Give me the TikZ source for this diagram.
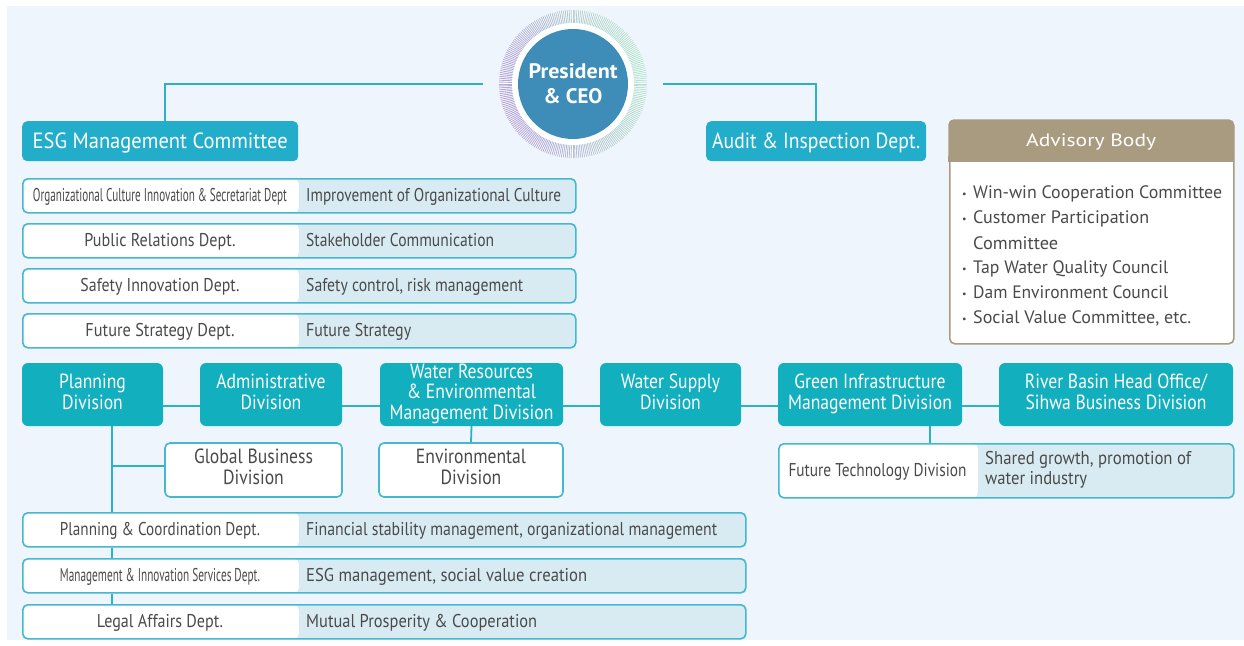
\documentclass[tikz,border=0pt]{standalone}
\usepackage{fontspec}
\setmainfont{PT Sans}
\usepackage{graphicx}
\definecolor{bgc}{HTML}{EEF5FC}
\definecolor{esgc}{HTML}{22AECB}
\definecolor{divc}{HTML}{12AFBE}
\definecolor{connc}{HTML}{2BB1C9}
\definecolor{rowline}{HTML}{45B7CE}
\definecolor{rowblue}{HTML}{D9EBF2}
\definecolor{txtgray}{HTML}{4A4A4A}
\definecolor{tanc}{HTML}{A99B80}
\definecolor{ceoblue}{HTML}{3E8DB9}
\definecolor{ringp}{HTML}{9C8BCF}
\definecolor{ringg}{HTML}{9ED9C4}
\newcommand{\tw}[2]{\resizebox{#1pt}{\height}{#2}}
\newcommand{\rowfont}{\fontsize{18.5}{20}\selectfont}
\newcommand{\topfont}{\fontsize{22}{24}\selectfont}
\newcommand{\divfont}{\fontsize{20.5}{21}\selectfont}
\newcommand{\advfont}{\fontsize{18}{20}\selectfont}
\newcommand{\ceofont}{\fontsize{21}{25}\selectfont\bfseries}
\newcommand{\dl}[1]{\scalebox{0.86}[1]{\begin{tabular}{@{}c@{}}#1\end{tabular}}}
\newcommand{\bul}{\makebox[11pt][l]{\raisebox{1pt}{\fontsize{10}{10}\selectfont\textbullet}}}
\begin{document}
\begin{tikzpicture}[x=1pt,y=1pt,
  conn/.style={draw=connc, line width=1.8pt},
  rowbox/.style={draw=rowline, line width=1.6pt, rounded corners=5pt, fill=rowblue,
    inner sep=0pt, anchor=north west, minimum height=34pt,
    path picture={\fill[white] (path picture bounding box.south west) rectangle ([xshift=#1]path picture bounding box.north west);}},
  rowtxt/.style={font=\rowfont, text=txtgray, inner sep=0pt, text height=12.9pt, text depth=0pt},
  topbox/.style={fill=esgc, rounded corners=5pt, anchor=north west, minimum height=40pt,
    inner sep=0pt, text=white, font=\topfont, text height=15.4pt, text depth=0pt},
  divbox/.style={fill=divc, rounded corners=6pt, minimum height=63pt, inner sep=0pt,
    text=white, font=\divfont, align=center},
  subbox/.style={draw=rowline, line width=1.6pt, fill=white, rounded corners=5pt,
    minimum height=54pt, inner sep=0pt, text=txtgray, font=\divfont, align=center},
  advtxt/.style={font=\advfont, text=txtgray, inner sep=0pt, anchor=base west},
]
\useasboundingbox (0,0) rectangle (1244,-645);
\fill[bgc] (7,-6) rectangle (1244,-640);

% CEO
\node[circle, minimum size=148pt, inner sep=0pt, text=white, font=\ceofont, align=center,
  path picture={
    \fill[white] (path picture bounding box.center) circle (74pt);
    \foreach \a in {0,1.5,...,358.5}{
      \pgfmathsetmacro\p{50+50*cos(\a-195)}
      \draw[color=ringp!\p!ringg, line width=0.9pt, opacity=0.75]
        (path picture bounding box.center) ++(\a:59pt) -- ++(\a:16pt);
    }
    \fill[white] (path picture bounding box.center) circle (61pt);
    \fill[ceoblue] (path picture bounding box.center) circle (55pt);
  }] (ceo) at (573,-84) {\tw{89}{President}\\\tw{59}{\& CEO}};

% top boxes
\node[topbox, minimum width=276pt] (esg) at (22,-121) {\tw{255}{ESG Management Committee}};
\node[topbox, minimum width=220pt] (audit) at (706,-121) {\tw{208}{Audit \& Inspection Dept.}};
\draw[conn] ([xshift=-16pt]ceo.west) -| ([xshift=5pt]esg.north);
\draw[conn] ([xshift=16pt]ceo.east) -| (audit.north);

% advisory body
\node[draw=tanc, line width=1.6pt, fill=white, rounded corners=5pt, minimum width=284pt,
  minimum height=223pt, anchor=north west, inner sep=0pt] (adv) at (949,-120) {};
\node[fill=tanc, rounded corners=5pt, minimum width=285.6pt, minimum height=42pt,
  anchor=north west, inner sep=0pt, text=white, font=\advfont, text height=12.6pt,
  text depth=0pt] (advh) at (948.2,-119.2) {\tw{130}{Advisory Body}};
\fill[tanc] (advh.south west) rectangle ([yshift=6pt]advh.south east);
\node[advtxt] (a1) at (962,-198) {\bul\tw{249}{Win-win Cooperation Committee}};
\node[advtxt] (a2) at (962,-223) {\bul\tw{176}{Customer Participation}};
\node[advtxt] (a3) at (973,-249) {\tw{85}{Committee}};
\node[advtxt] (a4) at (962,-273) {\bul\tw{195}{Tap Water Quality Council}};
\node[advtxt] (a5) at (962,-298) {\bul\tw{195}{Dam Environment Council}};
\node[advtxt] (a6) at (962,-323) {\bul\tw{218}{Social Value Committee, etc.}};

% ESG rows
\node[rowbox=276pt, minimum width=553pt] (r1) at (22,-178) {};
\node[rowtxt] (r1a) at (160,-195) {\tw{254}{Organizational Culture Innovation \& Secretariat Dept}};
\node[rowtxt, anchor=west] (r1b) at (306,-195) {\tw{255}{Improvement of Organizational Culture}};
\node[rowbox=276pt, minimum width=553pt] (r2) at (22,-223) {};
\node[rowtxt] (r2a) at (160,-240) {\tw{151}{Public Relations Dept.}};
\node[rowtxt, anchor=west] (r2b) at (306,-240) {\tw{188}{Stakeholder Communication}};
\node[rowbox=276pt, minimum width=553pt] (r3) at (22,-268) {};
\node[rowtxt] (r3a) at (160,-285) {\tw{159}{Safety Innovation Dept.}};
\node[rowtxt, anchor=west] (r3b) at (306,-285) {\tw{217}{Safety control, risk management}};
\node[rowbox=276pt, minimum width=553pt] (r4) at (22,-313) {};
\node[rowtxt] (r4a) at (160,-330) {\tw{149}{Future Strategy Dept.}};
\node[rowtxt, anchor=west] (r4b) at (306,-330) {\tw{105}{Future Strategy}};

% divisions
\node[divbox, minimum width=141pt] (plan) at (92.5,-394.5) {\dl{Planning\\Division}};
\node[divbox, minimum width=142pt] (admin) at (271,-394.5) {\dl{Administrative\\Division}};
\node[divbox, minimum width=183pt, font=\fontsize{20.5}{19}\selectfont] (wr) at (471.5,-394.5) {\dl{Water Resources\\\& Environmental\\Management Division}};
\node[divbox, minimum width=141pt] (ws) at (670.5,-394.5) {\dl{Water Supply\\Division}};
\node[divbox, minimum width=184pt] (green) at (870,-394.5) {\dl{Green Infrastructure\\Management Division}};
\node[divbox, minimum width=234pt] (river) at (1116,-394.5) {\dl{River Basin Head Office/\\Sihwa Business Division}};
\draw[conn] ([yshift=-11.5pt]plan.east) -- ([yshift=-11.5pt]admin.west);
\draw[conn] ([yshift=-11.5pt]admin.east) -- ([yshift=-11.5pt]wr.west);
\draw[conn] ([yshift=-11.5pt]wr.east) -- ([yshift=-11.5pt]ws.west);
\draw[conn] ([yshift=-11.5pt]ws.east) -- ([yshift=-11.5pt]green.west);
\draw[conn] ([yshift=-11.5pt]green.east) -- ([yshift=-11.5pt]river.west);

\node[subbox, minimum width=177pt] (glob) at (253.5,-470) {\dl{Global Business\\Division}};
\node[subbox, minimum width=184pt] (env) at (471,-470) {\dl{Environmental\\Division}};
\draw[conn] (wr.south) -- (env.north);

% future technology
\node[rowbox=199pt, minimum width=455pt, minimum height=54pt] (ft) at (778,-443) {};
\node[rowtxt] (fta) at (877.5,-470) {\tw{178}{Future Technology Division}};
\node[font=\rowfont, text=txtgray, inner sep=0pt, align=left, anchor=west] (ftb) at (985,-470)
  {\tw{206}{Shared growth, promotion of}\\\tw{102}{water industry}};
\draw[conn] ([xshift=60pt]green.south) -- ([xshift=60pt]green.south |- ft.north);

% bottom rows
\node[rowbox=276pt, minimum width=723pt] (b1) at (22,-512) {};
\node[rowtxt] (b1a) at (160,-529) {\tw{200}{Planning \& Coordination Dept.}};
\node[rowtxt, anchor=west] (b1b) at (306,-529) {\tw{411}{Financial stability management, organizational management}};
\node[rowbox=276pt, minimum width=723pt] (b2) at (22,-558) {};
\node[rowtxt] (b2a) at (160,-575) {\tw{200}{Management \& Innovation Services Dept.}};
\node[rowtxt, anchor=west] (b2b) at (306,-575) {\tw{281}{ESG management, social value creation}};
\node[rowbox=276pt, minimum width=723pt] (b3) at (22,-604) {};
\node[rowtxt] (b3a) at (160,-621) {\tw{126}{Legal Affairs Dept.}};
\node[rowtxt, anchor=west] (b3b) at (306,-621) {\tw{231}{Mutual Prosperity \& Cooperation}};

% planning spine
\coordinate (pv) at ([xshift=19.5pt]plan.south);
\draw[conn] (pv) -- (pv |- b1.north);
\draw[conn] ([yshift=4pt]pv |- glob.west) -- ([yshift=4pt]glob.west);
\draw[conn] (pv |- b1.south) -- (pv |- b2.north);
\draw[conn] (pv |- b2.south) -- (pv |- b3.north);
\end{tikzpicture}
\end{document}
